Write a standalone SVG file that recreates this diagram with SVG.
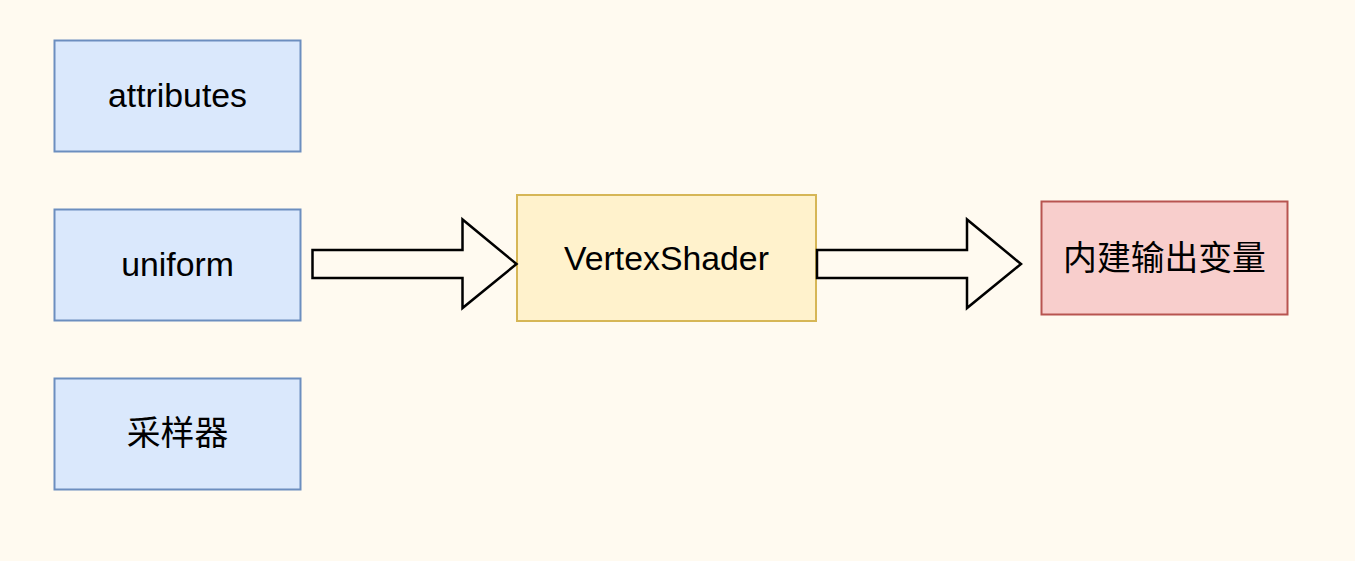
<svg xmlns="http://www.w3.org/2000/svg" width="1355" height="561" viewBox="0 0 1355 561">
<style>
.blue{fill:#dae8fc;stroke:#6c8ebf;stroke-width:2}
.yellow{fill:#fff2cc;stroke:#d6b656;stroke-width:2}
.red{fill:#f8cecc;stroke:#b85450;stroke-width:2}
.lbl{font-family:"Liberation Sans","Noto Sans CJK SC",sans-serif;font-size:33.8px;fill:#000;text-anchor:middle}
.arrow{fill:#fffaf0;stroke:#000;stroke-width:2.5;stroke-linejoin:miter}
</style>
<rect x="0" y="0" width="1355" height="561" fill="#fffaf0"/>
<g id="attributes">
<rect class="blue" x="54.5" y="40.5" width="246" height="111"/>
<text class="lbl" x="177.5" y="107">attributes</text>
</g>
<g id="uniform">
<rect class="blue" x="54.5" y="209.5" width="246" height="111"/>
<text class="lbl" x="177.5" y="276">uniform</text>
</g>
<g id="sampler">
<rect class="blue" x="54.5" y="378.5" width="246" height="111"/>
<text class="lbl" x="177.5" y="445">采样器</text>
</g>
<g id="vertexshader">
<rect class="yellow" x="517" y="195" width="299" height="126"/>
<text class="lbl" x="666.5" y="270">VertexShader</text>
</g>
<g id="builtin">
<rect class="red" x="1041.5" y="201.5" width="246" height="113"/>
<text class="lbl" x="1164.5" y="270">内建输出变量</text>
</g>
<g id="connectors">
<path class="arrow" d="M312.5,250 L462.5,250 L462.5,219.5 L516.5,264 L462.5,308 L462.5,278 L312.5,278 Z"/>
<path class="arrow" d="M817,250 L967,250 L967,219.5 L1021,264 L967,308 L967,278 L817,278 Z"/>
</g>
</svg>
